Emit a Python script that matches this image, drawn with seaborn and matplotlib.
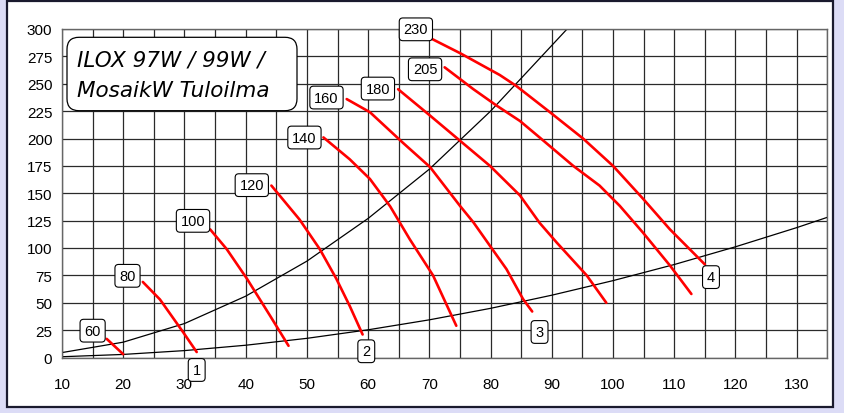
import numpy as np
import pandas as pd
import matplotlib
matplotlib.use("Agg")
import matplotlib.pyplot as plt
import seaborn as sns
from matplotlib.patches import FancyBboxPatch, Rectangle

# fan curves (air flow l/s vs pressure Pa)
fan_labels = ["60", "80", "100", "120", "140", "160", "180", "205", "230"]
fan_x = [
    [17.3, 20.0],
    [23.2, 26.0, 29.8, 32.0],
    [34.2, 36.9, 40.2, 41.6, 44.0, 47.0],
    [44.2, 48.8, 52.1, 54.8, 57.0, 59.1],
    [52.7, 57.0, 60.3, 63.6, 66.8, 70.6, 74.4],
    [56.5, 60.3, 65.7, 70.1, 75.0, 77.2, 79.9, 82.6, 85.3, 86.8],
    [64.9, 70.1, 75.0, 79.9, 84.8, 88.0, 90.8, 95.7, 98.9],
    [72.5, 77.2, 81.0, 84.8, 88.0, 93.5, 97.8, 101.1, 104.9, 109.3, 112.8],
    [70.4, 75.0, 81.5, 84.2, 89.7, 95.1, 100.0, 104.9, 109.3, 115.0],
]
fan_y = [
    [17, 3],
    [69, 53, 23, 5],
    [117, 99, 72, 59.5, 38, 10.7],
    [157, 126, 99, 72, 47, 21],
    [201, 181, 163, 138, 108, 75, 29],
    [236, 224, 196, 174, 138.5, 123.4, 102, 80.7, 53.4, 42],
    [245, 221, 198, 175, 148, 123, 105, 75, 50],
    [265, 245, 230, 216, 201, 175, 157, 138.5, 114, 84, 58],
    [291, 278, 258, 248, 224, 200, 175, 145, 117, 85],
]
fan_label_pos = [(15.0, 24.5), (20.7, 74.6), (31.4, 124.8), (41.0, 157.4),
                 (49.6, 200.9), (53.2, 237.4), (61.6, 245.6), (69.3, 263.2),
                 (67.8, 299.7)]

# system curves
sys_hi_x = [10, 20, 30, 40, 50, 60, 70, 80, 90, 92.5]
sys_hi_y = [4.5, 14, 31, 56, 88, 127, 172, 225, 285, 300]
sys_lo_x = [10, 20, 30, 40, 50, 60, 70, 80, 90, 100, 110, 120, 130, 135]
sys_lo_y = [0.7, 2.8, 6.3, 11.2, 17.5, 25.3, 34.4, 44.9, 56.9, 70.2, 84.9, 101.1, 118.6, 128]

pos_labels = ["1", "2", "3", "4"]
pos_xy = [(32.0, -11.4), (59.7, 5.7), (88.0, 23.3), (116.0, 73.4)]

title_lines = ["ILOX 97W / 99W /", "MosaikW Tuloilma"]

sns.set_style("white")
plt.rcParams['font.family'] = ['Liberation Sans', 'DejaVu Sans']
plt.rcParams['text.color'] = 'black'
plt.rcParams['xtick.color'] = 'black'
plt.rcParams['ytick.color'] = 'black'

fig = plt.figure(figsize=(8.45, 4.14), dpi=100)
fig.patch.set_facecolor("#dcdcf6")
# white panel with dark border
fig.patches.append(Rectangle((7 / 845, 1 - 408 / 414), 826 / 845, 406 / 414,
                             transform=fig.transFigure, facecolor="white",
                             edgecolor="#1a1a2e", linewidth=1.6, zorder=-5))

ax = fig.add_axes([62 / 845, 1 - 358.5 / 414, 765.3 / 845, 328.5 / 414])
ax.set_facecolor("white")
ax.set_xlim(10, 135)
ax.set_ylim(0, 300)
ax.set_xticks(np.arange(10, 131, 10))
ax.set_xticks(np.arange(10, 136, 5), minor=True)
ax.set_yticks(np.arange(0, 301, 25))
ax.grid(True, which="both", axis="x", color="#2a2a2a", linewidth=0.9)
ax.grid(True, which="major", axis="y", color="#2a2a2a", linewidth=0.9)
ax.tick_params(axis="both", which="major", labelsize=11, length=4, width=0.8,
               color="#444444", direction="out", pad=3)
ax.tick_params(axis="x", which="minor", length=0)
ax.tick_params(axis="x", pad=10)
for s in ax.spines.values():
    s.set_color("#666666")
    s.set_linewidth(1)

sns.lineplot(x=sys_hi_x, y=sys_hi_y, ax=ax, color="black", linewidth=0.9, sort=False)
sns.lineplot(x=sys_lo_x, y=sys_lo_y, ax=ax, color="black", linewidth=0.9, sort=False)

for xs, ys in zip(fan_x, fan_y):
    sns.lineplot(x=xs, y=ys, ax=ax, color="red", linewidth=1.9, sort=False)

box = dict(boxstyle="round,pad=0.3,rounding_size=0.25", facecolor="white",
           edgecolor="black", linewidth=0.8)
for lab, (lx, ly) in zip(fan_labels, fan_label_pos):
    ax.text(lx, ly, lab, ha="center", va="center", fontsize=10.5, bbox=box,
            zorder=5, clip_on=False)
for lab, (lx, ly) in zip(pos_labels, pos_xy):
    ax.text(lx, ly, lab, ha="center", va="center", fontsize=10.5, bbox=box,
            zorder=5, clip_on=False)

# title box
tb = FancyBboxPatch((0.67, 3.023), 2.30, 0.734,
                    boxstyle="round,pad=0,rounding_size=0.12",
                    transform=fig.dpi_scale_trans, facecolor="white",
                    edgecolor="black", linewidth=0.9, zorder=6)
fig.patches.append(tb)
fig.text(0.77 / 8.45, 1 - 60 / 414, title_lines[0], fontsize=15.5, style="italic",
         family=["DejaVu Sans"], va="center", ha="left", zorder=7)
fig.text(0.77 / 8.45, 1 - 91 / 414, title_lines[1], fontsize=15.5, style="italic",
         family=["DejaVu Sans"], va="center", ha="left", zorder=7)

fig.savefig("out.png", dpi=100, facecolor=fig.get_facecolor())
